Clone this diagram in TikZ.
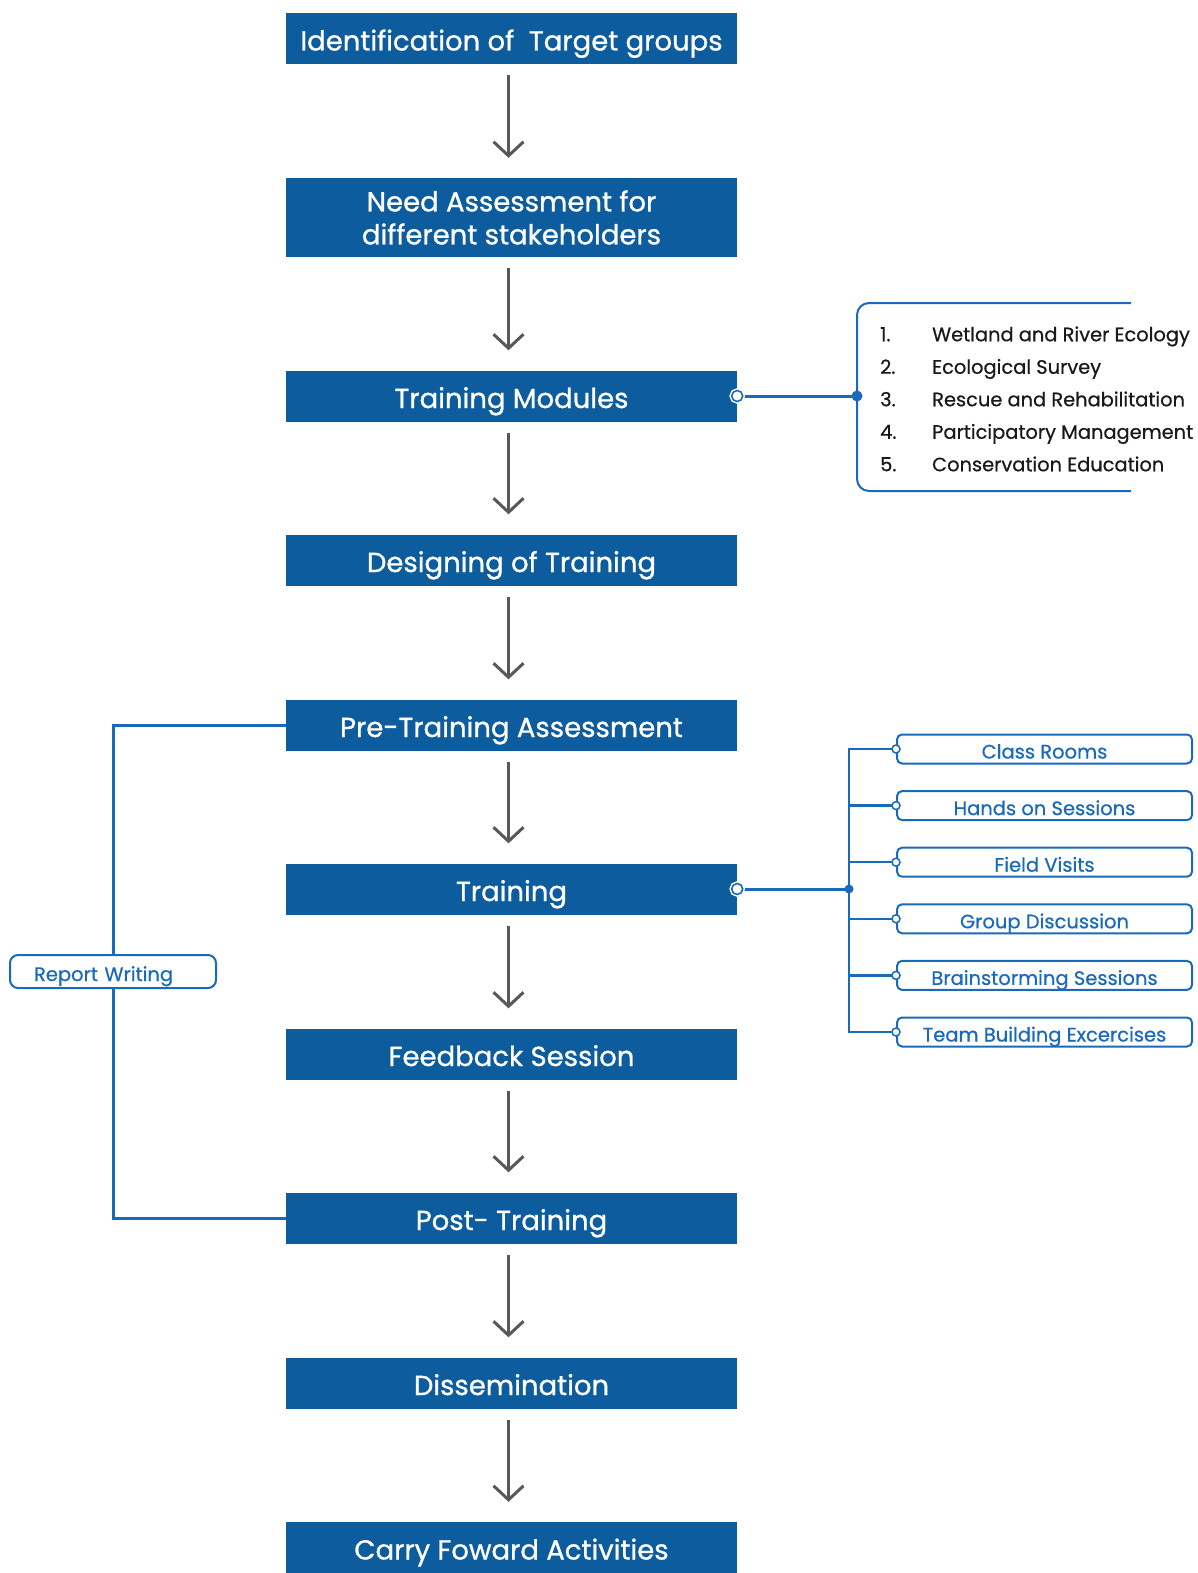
\documentclass[tikz,border=0pt]{standalone}
\usepackage{fontspec}
\setmainfont{Poppins}
\newfontfamily\stagefont{Poppins}[FakeBold=0.9]
\newfontfamily\choicefont{Poppins}[FakeBold=0.6]
\usepackage{xcolor}
\definecolor{boxblue}{RGB}{12,92,158}
\definecolor{lineblue}{RGB}{26,106,188}
\definecolor{arrowgray}{RGB}{88,88,88}
\definecolor{listgray}{RGB}{25,25,25}
\usetikzlibrary{arrows.meta,positioning}

\tikzset{
  stagebox/.style={fill=boxblue,text=white,minimum width=451pt,minimum height=51pt,
                   inner sep=0pt,align=center,font=\stagefont\fontsize{27.5}{33}\selectfont},
  stage/.style={stagebox,text height=24pt,text depth=0pt},
  flow/.style={-{Straight Barb[length=14pt,width=30pt]},line width=3pt,arrowgray,
               shorten <=11pt,shorten >=20pt},
  link/.style={lineblue,line width=3pt},
  branch/.style={lineblue,line width=2.5pt},
  choice/.style={draw=lineblue,line width=2pt,rounded corners=5pt,fill=white,text=lineblue,
                 minimum width=295pt,minimum height=29pt,inner sep=0pt,
                 text height=19pt,text depth=0pt,
                 font=\choicefont\fontsize{19.5}{22}\selectfont},
  listitem/.style={text=listgray,anchor=west,inner sep=0pt,text height=14.5pt,text depth=0pt,
                   font=\choicefont\fontsize{19.4}{22}\selectfont},
  opendot/.style={circle,draw=lineblue,fill=white,line width=1.6pt,minimum size=11pt,
                  inner sep=0pt,preaction={draw=white,line width=4.5pt}},
  smalldot/.style={circle,draw=lineblue,fill=white,line width=1.5pt,minimum size=8pt,inner sep=0pt},
}

\begin{document}
\begin{tikzpicture}[x=1pt,y=-1pt]
  \useasboundingbox (0,0) rectangle (1197,1573);

  %% Main stages
  \node[stage] (ident)   at (511.5,38.5) {Identification of \ Target groups};
  \node[stagebox,minimum height=79pt] (need) at (511.5,217.5) {Need Assessment for\\different stakeholders};
  \node[stage] (modules) at (511.5,396)  {Training Modules};
  \node[stage] (design)  at (511.5,560)  {Designing of Training};
  \node[stage] (pre)     at (511.5,725)  {Pre-Training Assessment};
  \node[stage] (train)   at (511.5,889)  {Training};
  \node[stage] (feed)    at (511.5,1054) {Feedback Session};
  \node[stage] (post)    at (511.5,1218) {Post- Training};
  \node[stage] (dissem)  at (511.5,1383) {Dissemination};
  \node[stage] (carry)   at (511.5,1547.5) {Carry Foward Activities};

  %% Arrows between stages
  \foreach \a/\b in {ident/need,need/modules,modules/design,design/pre,pre/train,
                     train/feed,feed/post,post/dissem,dissem/carry}
    \draw[flow] ([xshift=-3pt]\a.south) -- ([xshift=-3pt]\b.north);

  %% Module list
  \draw[link,line width=2pt,rounded corners=12pt] (1131,303) -- (857,303) -- (857,491) -- (1131,491);
  \coordinate (mdot) at (857,396);
  \draw[link] (modules.east) -- (mdot);
  \fill[lineblue] (mdot) circle (5.5pt);
  \node[opendot] at (modules.east) {};
  \foreach \t [count=\i] in {Wetland and River Ecology,Ecological Survey,Rescue and Rehabilitation,
                             Participatory Management,Conservation Education}{
    \node[listitem] (num\i) at (880,{334+(\i-1)*32.5}) {\i.};
    \node[listitem] (mod\i) at (932,{334+(\i-1)*32.5}) {\t};
  }

  %% Training methods
  \coordinate (tdot) at (849,889);
  \draw[link] (train.east) -- (tdot);
  \foreach \t [count=\i] in {Class Rooms,Hands on Sessions,Field Visits,Group Discussion,
                             Brainstorming Sessions,Team Building Excercises}{
    \node[choice] (opt\i) at (1044.5,{749+(\i-1)*56.6}) {\t};
    \draw[branch] (tdot) |- (opt\i.west);
    \node[smalldot] at (opt\i.west) {};
  }
  \fill[lineblue] (tdot) circle (4.5pt);
  \node[opendot] at (train.east) {};

  %% Report writing loop
  \node[choice,minimum width=206pt,minimum height=33pt,rounded corners=8pt,
        text width=158pt,align=left] (report) at (113,971.5) {Report Writing};
  \draw[link] (pre.west) -| (report.north);
  \draw[link] (post.west) -| (report.south);
\end{tikzpicture}
\end{document}
